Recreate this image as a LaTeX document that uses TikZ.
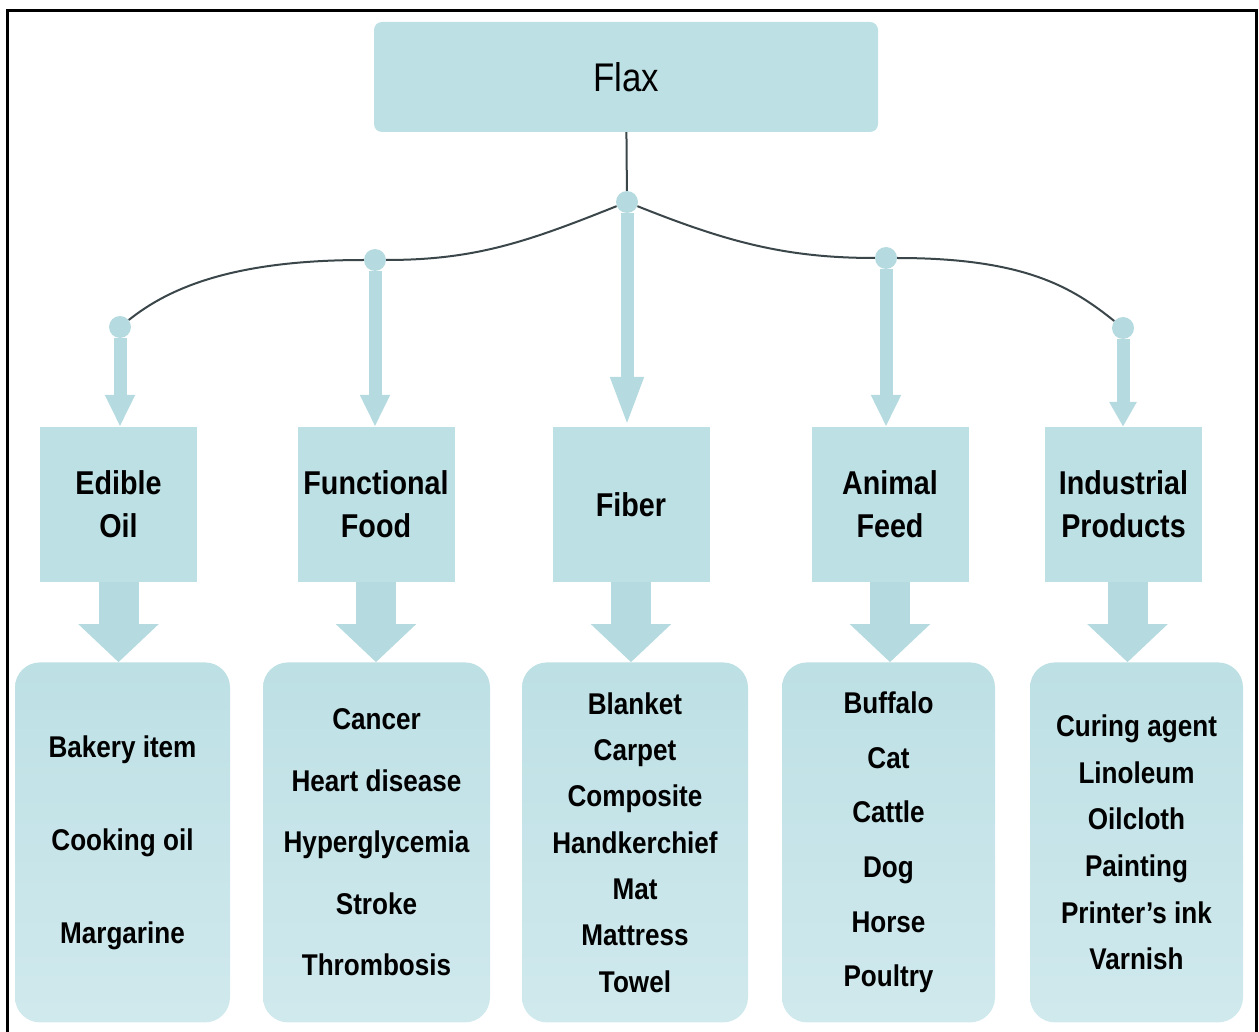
\documentclass[tikz,border=0pt]{standalone}
\usepackage{fontspec}
\setmainfont{Liberation Sans}[FakeStretch=0.87]
\usetikzlibrary{arrows.meta, positioning}
\definecolor{flaxblue}{RGB}{189,224,229}
\definecolor{flaxpale}{RGB}{208,233,237}
\definecolor{flaxstem}{RGB}{181,219,224}
\definecolor{linkgray}{RGB}{58,70,74}

\begin{document}
\begin{tikzpicture}[x=1pt, y=-1pt,
      flaxroot/.style={rectangle, rounded corners=8pt, fill=flaxblue, minimum width=504pt, minimum height=110pt, font=\fontsize{40}{44}\selectfont},
      usebox/.style={rectangle, fill=flaxblue, minimum width=157pt, minimum height=155pt, align=center, font=\bfseries\fontsize{33}{43}\selectfont},
      listbox/.style={rectangle, rounded corners=25pt, top color=flaxblue, bottom color=flaxpale, minimum height=360pt, align=center, font=\bfseries\fontsize{30}{#1}\selectfont},
      knot/.style={circle, fill=flaxstem, minimum size=22pt, inner sep=0pt},
      stem/.style={line width=13pt, flaxstem, -{Triangle[width=28pt, length=32pt]}},
      bigarrow/.style={line width=40pt, flaxstem, -{Triangle[width=78pt, length=38pt]}},
      branch/.style={linkgray, line width=2pt}]
      \useasboundingbox (0,0) rectangle (1259,1032);
      % Frame (open at the bottom)
      \draw[line width=3pt] (7,1032) -- (7,11) -- (1256,11) -- (1256,1032);

      % Root
      \node[flaxroot] (flax) at (626,77) {Flax};

      % Uses
      \node[usebox] (oil) at (118.5,504.5) {Edible\\Oil};
      \node[usebox] (food) at (376,504.5) {Functional\\Food};
      \node[usebox] (fiber) at (631,504.5) {Fiber};
      \node[usebox] (feed) at (890,504.5) {Animal\\Feed};
      \node[usebox] (industry) at (1123.5,504.5) {Industrial\\Products};

      % Product lists
      \node[listbox=93pt, minimum width=215pt] (oilL) [below=80pt of oil, xshift=4pt]
            {Bakery item\\Cooking oil\\Margarine};
      \node[listbox=61.5pt, minimum width=227pt] (foodL) [below=80pt of food, xshift=0.5pt]
            {Cancer\\Heart disease\\Hyperglycemia\\Stroke\\Thrombosis};
      \node[listbox=46.3pt, minimum width=226pt] (fiberL) [below=80pt of fiber, xshift=4pt]
            {Blanket\\Carpet\\Composite\\Handkerchief\\Mat\\Mattress\\Towel};
      \node[listbox=54.6pt, minimum width=213pt] (feedL) [below=80pt of feed, xshift=-1.5pt]
            {Buffalo\\Cat\\Cattle\\Dog\\Horse\\Poultry};
      \node[listbox=46.6pt, minimum width=213pt] (industryL) [below=80pt of industry, xshift=13pt]
            {Curing agent\\Linoleum\\Oilcloth\\Painting\\Printer’s ink\\Varnish};

      % Branch points
      \node[knot] (kO) at (120,327) {};
      \node[knot] (kF) at (375,260) {};
      \node[knot] (kX) at (627,202) {};
      \node[knot] (kA) at (886,258) {};
      \node[knot] (kI) at (1123,328) {};

      % Curved links
      \draw[branch] (flax) -- (kX);
      \draw[branch] (kX) .. controls +(-100,40) and +(100,0) .. (kF);
      \draw[branch] (kF) .. controls +(-140,0) and +(50,-40) .. (kO);
      \draw[branch] (kX) .. controls +(100,40) and +(-100,0) .. (kA);
      \draw[branch] (kA) .. controls +(140,0) and +(-50,-40) .. (kI);

      % Arrows into the uses
      \draw[stem] (kO) -- (kO |- oil.north);
      \draw[stem] (kF) -- (kF |- food.north);
      \draw[stem, -{Triangle[width=30pt, length=50pt]}] (kX) -- (kX |- fiber.north);
      \draw[stem] (kA) -- (kA |- feed.north);
      \draw[stem, -{Triangle[width=26pt, length=25pt]}] (kI) -- (kI |- industry.north);

      % Arrows into the lists
      \draw[bigarrow] (oil.south) -- (oil.south |- oilL.north);
      \draw[bigarrow] (food.south) -- (food.south |- foodL.north);
      \draw[bigarrow] (fiber.south) -- (fiber.south |- fiberL.north);
      \draw[bigarrow] (feed.south) -- (feed.south |- feedL.north);
      \draw[bigarrow] ([xshift=4pt]industry.south) -- ([xshift=4pt]industry.south |- industryL.north);
\end{tikzpicture}
\end{document}
